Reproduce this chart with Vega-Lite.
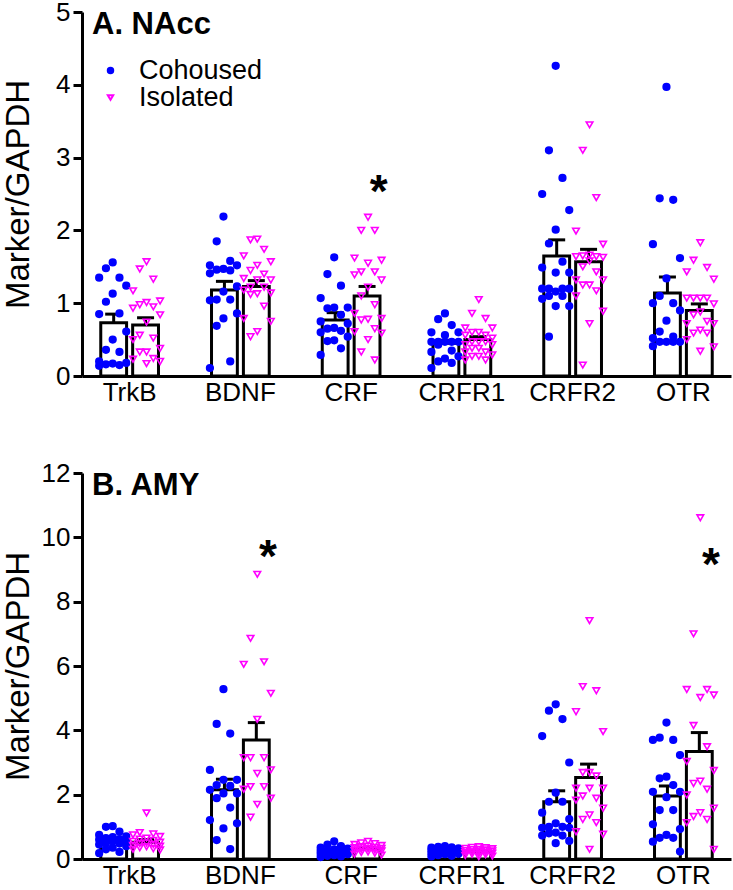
{
  "$schema": "https://vega.github.io/schema/vega-lite/v6.json",
  "autosize": {"type": "none"},
  "padding": {"left": 82, "top": 12, "right": 651, "bottom": 878},
  "spacing": 97,
  "bounds": "flush",
  "resolve": {"legend": {"shape": "independent", "fill": "independent", "stroke": "independent"}},
  "config": {
    "font": "Liberation Sans",
    "view": {"stroke": null},
    "axis": {"grid": false, "domainColor": "black", "domainWidth": 3, "tickColor": "black", "tickWidth": 3, "labelColor": "black", "labelFontSize": 26, "titleColor": "black"},
    "axisX": {"ticks": false, "labelPadding": 3, "title": null, "labelAngle": 0},
    "axisY": {"tickSize": 9, "labelPadding": 3, "titleFontSize": 33, "titleFontWeight": "normal", "titleX": -54, "titleBaseline": "alphabetic", "titleAngle": -90, "format": "d"}
  },
  "datasets": {
    "nacc_bars": [
      {"gene": "TrkB", "group": "Cohoused", "mean": 0.73, "hi": 0.85},
      {"gene": "TrkB", "group": "Isolated", "mean": 0.70, "hi": 0.80},
      {"gene": "BDNF", "group": "Cohoused", "mean": 1.18, "hi": 1.30},
      {"gene": "BDNF", "group": "Isolated", "mean": 1.23, "hi": 1.31},
      {"gene": "CRF", "group": "Cohoused", "mean": 0.77, "hi": 0.87},
      {"gene": "CRF", "group": "Isolated", "mean": 1.10, "hi": 1.23},
      {"gene": "CRFR1", "group": "Cohoused", "mean": 0.45, "hi": 0.49},
      {"gene": "CRFR1", "group": "Isolated", "mean": 0.50, "hi": 0.54},
      {"gene": "CRFR2", "group": "Cohoused", "mean": 1.65, "hi": 1.87},
      {"gene": "CRFR2", "group": "Isolated", "mean": 1.57, "hi": 1.74},
      {"gene": "OTR", "group": "Cohoused", "mean": 1.14, "hi": 1.36},
      {"gene": "OTR", "group": "Isolated", "mean": 0.90, "hi": 0.99}
    ],
    "amy_bars": [
      {"gene": "TrkB", "group": "Cohoused", "mean": 0.57, "hi": 0.63},
      {"gene": "TrkB", "group": "Isolated", "mean": 0.52, "hi": 0.60},
      {"gene": "BDNF", "group": "Cohoused", "mean": 2.15, "hi": 2.48},
      {"gene": "BDNF", "group": "Isolated", "mean": 3.70, "hi": 4.24},
      {"gene": "CRF", "group": "Cohoused", "mean": 0.24, "hi": 0.28},
      {"gene": "CRF", "group": "Isolated", "mean": 0.32, "hi": 0.35},
      {"gene": "CRFR1", "group": "Cohoused", "mean": 0.25, "hi": 0.28},
      {"gene": "CRFR1", "group": "Isolated", "mean": 0.23, "hi": 0.26},
      {"gene": "CRFR2", "group": "Cohoused", "mean": 1.78, "hi": 2.12},
      {"gene": "CRFR2", "group": "Isolated", "mean": 2.53, "hi": 2.95},
      {"gene": "OTR", "group": "Cohoused", "mean": 1.96, "hi": 2.27},
      {"gene": "OTR", "group": "Isolated", "mean": 3.34, "hi": 3.93}
    ],
    "sig": [
      {"region": "NAcc", "gene": "CRF", "group": "Isolated", "value": 2.65},
      {"region": "AMY", "gene": "BDNF", "group": "Isolated", "value": 9.66},
      {"region": "AMY", "gene": "OTR", "group": "Isolated", "value": 9.42}
    ],
    "nacc": [
      {"gene":"TrkB","group":"Cohoused","value":1.56},{"gene":"TrkB","group":"Cohoused","value":1.48},{"gene":"TrkB","group":"Cohoused","value":1.35},{"gene":"TrkB","group":"Cohoused","value":1.35},{"gene":"TrkB","group":"Cohoused","value":1.24},{"gene":"TrkB","group":"Cohoused","value":1.13},{"gene":"TrkB","group":"Cohoused","value":1.02},{"gene":"TrkB","group":"Cohoused","value":0.86},{"gene":"TrkB","group":"Cohoused","value":0.85},{"gene":"TrkB","group":"Cohoused","value":0.61},{"gene":"TrkB","group":"Cohoused","value":0.50},{"gene":"TrkB","group":"Cohoused","value":0.36},{"gene":"TrkB","group":"Cohoused","value":0.33},{"gene":"TrkB","group":"Cohoused","value":0.20},{"gene":"TrkB","group":"Cohoused","value":0.18},{"gene":"TrkB","group":"Cohoused","value":0.17},{"gene":"TrkB","group":"Cohoused","value":0.16},{"gene":"TrkB","group":"Cohoused","value":0.15},{"gene":"TrkB","group":"Cohoused","value":0.14},
      {"gene":"TrkB","group":"Isolated","value":1.57},{"gene":"TrkB","group":"Isolated","value":1.47},{"gene":"TrkB","group":"Isolated","value":1.33},{"gene":"TrkB","group":"Isolated","value":1.17},{"gene":"TrkB","group":"Isolated","value":1.03},{"gene":"TrkB","group":"Isolated","value":1.01},{"gene":"TrkB","group":"Isolated","value":0.98},{"gene":"TrkB","group":"Isolated","value":0.95},{"gene":"TrkB","group":"Isolated","value":0.93},{"gene":"TrkB","group":"Isolated","value":0.84},{"gene":"TrkB","group":"Isolated","value":0.74},{"gene":"TrkB","group":"Isolated","value":0.56},{"gene":"TrkB","group":"Isolated","value":0.52},{"gene":"TrkB","group":"Isolated","value":0.50},{"gene":"TrkB","group":"Isolated","value":0.38},{"gene":"TrkB","group":"Isolated","value":0.33},{"gene":"TrkB","group":"Isolated","value":0.33},{"gene":"TrkB","group":"Isolated","value":0.24},{"gene":"TrkB","group":"Isolated","value":0.23},{"gene":"TrkB","group":"Isolated","value":0.20},{"gene":"TrkB","group":"Isolated","value":0.17},
      {"gene":"BDNF","group":"Cohoused","value":2.19},{"gene":"BDNF","group":"Cohoused","value":1.85},{"gene":"BDNF","group":"Cohoused","value":1.58},{"gene":"BDNF","group":"Cohoused","value":1.52},{"gene":"BDNF","group":"Cohoused","value":1.52},{"gene":"BDNF","group":"Cohoused","value":1.47},{"gene":"BDNF","group":"Cohoused","value":1.46},{"gene":"BDNF","group":"Cohoused","value":1.45},{"gene":"BDNF","group":"Cohoused","value":1.41},{"gene":"BDNF","group":"Cohoused","value":1.23},{"gene":"BDNF","group":"Cohoused","value":1.16},{"gene":"BDNF","group":"Cohoused","value":1.05},{"gene":"BDNF","group":"Cohoused","value":1.05},{"gene":"BDNF","group":"Cohoused","value":1.04},{"gene":"BDNF","group":"Cohoused","value":0.86},{"gene":"BDNF","group":"Cohoused","value":0.79},{"gene":"BDNF","group":"Cohoused","value":0.69},{"gene":"BDNF","group":"Cohoused","value":0.20},{"gene":"BDNF","group":"Cohoused","value":0.11},
      {"gene":"BDNF","group":"Isolated","value":1.88},{"gene":"BDNF","group":"Isolated","value":1.87},{"gene":"BDNF","group":"Isolated","value":1.74},{"gene":"BDNF","group":"Isolated","value":1.65},{"gene":"BDNF","group":"Isolated","value":1.57},{"gene":"BDNF","group":"Isolated","value":1.52},{"gene":"BDNF","group":"Isolated","value":1.45},{"gene":"BDNF","group":"Isolated","value":1.40},{"gene":"BDNF","group":"Isolated","value":1.34},{"gene":"BDNF","group":"Isolated","value":1.32},{"gene":"BDNF","group":"Isolated","value":1.32},{"gene":"BDNF","group":"Isolated","value":1.22},{"gene":"BDNF","group":"Isolated","value":1.22},{"gene":"BDNF","group":"Isolated","value":1.18},{"gene":"BDNF","group":"Isolated","value":1.14},{"gene":"BDNF","group":"Isolated","value":1.13},{"gene":"BDNF","group":"Isolated","value":1.12},{"gene":"BDNF","group":"Isolated","value":0.96},{"gene":"BDNF","group":"Isolated","value":0.79},{"gene":"BDNF","group":"Isolated","value":0.75},{"gene":"BDNF","group":"Isolated","value":0.61},{"gene":"BDNF","group":"Isolated","value":0.54},
      {"gene":"CRF","group":"Cohoused","value":1.63},{"gene":"CRF","group":"Cohoused","value":1.40},{"gene":"CRF","group":"Cohoused","value":1.24},{"gene":"CRF","group":"Cohoused","value":1.07},{"gene":"CRF","group":"Cohoused","value":0.94},{"gene":"CRF","group":"Cohoused","value":0.94},{"gene":"CRF","group":"Cohoused","value":0.93},{"gene":"CRF","group":"Cohoused","value":0.84},{"gene":"CRF","group":"Cohoused","value":0.75},{"gene":"CRF","group":"Cohoused","value":0.72},{"gene":"CRF","group":"Cohoused","value":0.66},{"gene":"CRF","group":"Cohoused","value":0.65},{"gene":"CRF","group":"Cohoused","value":0.62},{"gene":"CRF","group":"Cohoused","value":0.60},{"gene":"CRF","group":"Cohoused","value":0.54},{"gene":"CRF","group":"Cohoused","value":0.49},{"gene":"CRF","group":"Cohoused","value":0.48},{"gene":"CRF","group":"Cohoused","value":0.38},{"gene":"CRF","group":"Cohoused","value":0.29},
      {"gene":"CRF","group":"Isolated","value":2.18},{"gene":"CRF","group":"Isolated","value":2.00},{"gene":"CRF","group":"Isolated","value":2.00},{"gene":"CRF","group":"Isolated","value":1.62},{"gene":"CRF","group":"Isolated","value":1.59},{"gene":"CRF","group":"Isolated","value":1.55},{"gene":"CRF","group":"Isolated","value":1.43},{"gene":"CRF","group":"Isolated","value":1.43},{"gene":"CRF","group":"Isolated","value":1.39},{"gene":"CRF","group":"Isolated","value":1.32},{"gene":"CRF","group":"Isolated","value":1.22},{"gene":"CRF","group":"Isolated","value":1.10},{"gene":"CRF","group":"Isolated","value":0.98},{"gene":"CRF","group":"Isolated","value":0.86},{"gene":"CRF","group":"Isolated","value":0.79},{"gene":"CRF","group":"Isolated","value":0.78},{"gene":"CRF","group":"Isolated","value":0.77},{"gene":"CRF","group":"Isolated","value":0.65},{"gene":"CRF","group":"Isolated","value":0.61},{"gene":"CRF","group":"Isolated","value":0.59},{"gene":"CRF","group":"Isolated","value":0.50},{"gene":"CRF","group":"Isolated","value":0.33},{"gene":"CRF","group":"Isolated","value":0.22},
      {"gene":"CRFR1","group":"Cohoused","value":0.86},{"gene":"CRFR1","group":"Cohoused","value":0.78},{"gene":"CRFR1","group":"Cohoused","value":0.70},{"gene":"CRFR1","group":"Cohoused","value":0.60},{"gene":"CRFR1","group":"Cohoused","value":0.60},{"gene":"CRFR1","group":"Cohoused","value":0.56},{"gene":"CRFR1","group":"Cohoused","value":0.47},{"gene":"CRFR1","group":"Cohoused","value":0.47},{"gene":"CRFR1","group":"Cohoused","value":0.47},{"gene":"CRFR1","group":"Cohoused","value":0.47},{"gene":"CRFR1","group":"Cohoused","value":0.47},{"gene":"CRFR1","group":"Cohoused","value":0.43},{"gene":"CRFR1","group":"Cohoused","value":0.35},{"gene":"CRFR1","group":"Cohoused","value":0.33},{"gene":"CRFR1","group":"Cohoused","value":0.27},{"gene":"CRFR1","group":"Cohoused","value":0.24},{"gene":"CRFR1","group":"Cohoused","value":0.20},{"gene":"CRFR1","group":"Cohoused","value":0.18},{"gene":"CRFR1","group":"Cohoused","value":0.11},
      {"gene":"CRFR1","group":"Isolated","value":1.05},{"gene":"CRFR1","group":"Isolated","value":0.86},{"gene":"CRFR1","group":"Isolated","value":0.79},{"gene":"CRFR1","group":"Isolated","value":0.66},{"gene":"CRFR1","group":"Isolated","value":0.66},{"gene":"CRFR1","group":"Isolated","value":0.60},{"gene":"CRFR1","group":"Isolated","value":0.60},{"gene":"CRFR1","group":"Isolated","value":0.56},{"gene":"CRFR1","group":"Isolated","value":0.56},{"gene":"CRFR1","group":"Isolated","value":0.52},{"gene":"CRFR1","group":"Isolated","value":0.47},{"gene":"CRFR1","group":"Isolated","value":0.47},{"gene":"CRFR1","group":"Isolated","value":0.47},{"gene":"CRFR1","group":"Isolated","value":0.43},{"gene":"CRFR1","group":"Isolated","value":0.43},{"gene":"CRFR1","group":"Isolated","value":0.38},{"gene":"CRFR1","group":"Isolated","value":0.38},{"gene":"CRFR1","group":"Isolated","value":0.33},{"gene":"CRFR1","group":"Isolated","value":0.33},{"gene":"CRFR1","group":"Isolated","value":0.29},{"gene":"CRFR1","group":"Isolated","value":0.27},{"gene":"CRFR1","group":"Isolated","value":0.27},{"gene":"CRFR1","group":"Isolated","value":0.22},{"gene":"CRFR1","group":"Isolated","value":0.22},
      {"gene":"CRFR2","group":"Cohoused","value":4.26},{"gene":"CRFR2","group":"Cohoused","value":3.10},{"gene":"CRFR2","group":"Cohoused","value":2.72},{"gene":"CRFR2","group":"Cohoused","value":2.50},{"gene":"CRFR2","group":"Cohoused","value":2.28},{"gene":"CRFR2","group":"Cohoused","value":2.01},{"gene":"CRFR2","group":"Cohoused","value":1.82},{"gene":"CRFR2","group":"Cohoused","value":1.57},{"gene":"CRFR2","group":"Cohoused","value":1.49},{"gene":"CRFR2","group":"Cohoused","value":1.42},{"gene":"CRFR2","group":"Cohoused","value":1.42},{"gene":"CRFR2","group":"Cohoused","value":1.20},{"gene":"CRFR2","group":"Cohoused","value":1.20},{"gene":"CRFR2","group":"Cohoused","value":1.20},{"gene":"CRFR2","group":"Cohoused","value":1.20},{"gene":"CRFR2","group":"Cohoused","value":1.16},{"gene":"CRFR2","group":"Cohoused","value":1.10},{"gene":"CRFR2","group":"Cohoused","value":1.10},{"gene":"CRFR2","group":"Cohoused","value":1.06},{"gene":"CRFR2","group":"Cohoused","value":0.96},{"gene":"CRFR2","group":"Cohoused","value":0.96},{"gene":"CRFR2","group":"Cohoused","value":0.54},
      {"gene":"CRFR2","group":"Isolated","value":3.45},{"gene":"CRFR2","group":"Isolated","value":3.10},{"gene":"CRFR2","group":"Isolated","value":2.45},{"gene":"CRFR2","group":"Isolated","value":1.99},{"gene":"CRFR2","group":"Isolated","value":1.81},{"gene":"CRFR2","group":"Isolated","value":1.66},{"gene":"CRFR2","group":"Isolated","value":1.65},{"gene":"CRFR2","group":"Isolated","value":1.64},{"gene":"CRFR2","group":"Isolated","value":1.64},{"gene":"CRFR2","group":"Isolated","value":1.63},{"gene":"CRFR2","group":"Isolated","value":1.58},{"gene":"CRFR2","group":"Isolated","value":1.50},{"gene":"CRFR2","group":"Isolated","value":1.43},{"gene":"CRFR2","group":"Isolated","value":1.32},{"gene":"CRFR2","group":"Isolated","value":1.32},{"gene":"CRFR2","group":"Isolated","value":1.25},{"gene":"CRFR2","group":"Isolated","value":1.25},{"gene":"CRFR2","group":"Isolated","value":1.17},{"gene":"CRFR2","group":"Isolated","value":1.10},{"gene":"CRFR2","group":"Isolated","value":0.89},{"gene":"CRFR2","group":"Isolated","value":0.72},{"gene":"CRFR2","group":"Isolated","value":0.15},
      {"gene":"OTR","group":"Cohoused","value":3.97},{"gene":"OTR","group":"Cohoused","value":2.44},{"gene":"OTR","group":"Cohoused","value":2.42},{"gene":"OTR","group":"Cohoused","value":1.81},{"gene":"OTR","group":"Cohoused","value":1.62},{"gene":"OTR","group":"Cohoused","value":1.34},{"gene":"OTR","group":"Cohoused","value":1.10},{"gene":"OTR","group":"Cohoused","value":1.00},{"gene":"OTR","group":"Cohoused","value":1.00},{"gene":"OTR","group":"Cohoused","value":0.90},{"gene":"OTR","group":"Cohoused","value":0.76},{"gene":"OTR","group":"Cohoused","value":0.61},{"gene":"OTR","group":"Cohoused","value":0.54},{"gene":"OTR","group":"Cohoused","value":0.52},{"gene":"OTR","group":"Cohoused","value":0.47},{"gene":"OTR","group":"Cohoused","value":0.47},{"gene":"OTR","group":"Cohoused","value":0.47},{"gene":"OTR","group":"Cohoused","value":0.47},{"gene":"OTR","group":"Cohoused","value":0.41},
      {"gene":"OTR","group":"Isolated","value":1.83},{"gene":"OTR","group":"Isolated","value":1.59},{"gene":"OTR","group":"Isolated","value":1.49},{"gene":"OTR","group":"Isolated","value":1.43},{"gene":"OTR","group":"Isolated","value":1.33},{"gene":"OTR","group":"Isolated","value":1.07},{"gene":"OTR","group":"Isolated","value":1.07},{"gene":"OTR","group":"Isolated","value":1.07},{"gene":"OTR","group":"Isolated","value":1.07},{"gene":"OTR","group":"Isolated","value":0.99},{"gene":"OTR","group":"Isolated","value":0.88},{"gene":"OTR","group":"Isolated","value":0.84},{"gene":"OTR","group":"Isolated","value":0.75},{"gene":"OTR","group":"Isolated","value":0.72},{"gene":"OTR","group":"Isolated","value":0.72},{"gene":"OTR","group":"Isolated","value":0.63},{"gene":"OTR","group":"Isolated","value":0.59},{"gene":"OTR","group":"Isolated","value":0.59},{"gene":"OTR","group":"Isolated","value":0.50},{"gene":"OTR","group":"Isolated","value":0.40},{"gene":"OTR","group":"Isolated","value":0.34}
    ],
    "amy": [
      {"gene":"TrkB","group":"Cohoused","value":1.02},{"gene":"TrkB","group":"Cohoused","value":1.00},{"gene":"TrkB","group":"Cohoused","value":0.85},{"gene":"TrkB","group":"Cohoused","value":0.75},{"gene":"TrkB","group":"Cohoused","value":0.70},{"gene":"TrkB","group":"Cohoused","value":0.68},{"gene":"TrkB","group":"Cohoused","value":0.65},{"gene":"TrkB","group":"Cohoused","value":0.62},{"gene":"TrkB","group":"Cohoused","value":0.60},{"gene":"TrkB","group":"Cohoused","value":0.58},{"gene":"TrkB","group":"Cohoused","value":0.55},{"gene":"TrkB","group":"Cohoused","value":0.50},{"gene":"TrkB","group":"Cohoused","value":0.48},{"gene":"TrkB","group":"Cohoused","value":0.45},{"gene":"TrkB","group":"Cohoused","value":0.40},{"gene":"TrkB","group":"Cohoused","value":0.35},{"gene":"TrkB","group":"Cohoused","value":0.30},{"gene":"TrkB","group":"Cohoused","value":0.22},{"gene":"TrkB","group":"Cohoused","value":0.18},
      {"gene":"TrkB","group":"Isolated","value":1.43},{"gene":"TrkB","group":"Isolated","value":0.82},{"gene":"TrkB","group":"Isolated","value":0.78},{"gene":"TrkB","group":"Isolated","value":0.75},{"gene":"TrkB","group":"Isolated","value":0.70},{"gene":"TrkB","group":"Isolated","value":0.65},{"gene":"TrkB","group":"Isolated","value":0.62},{"gene":"TrkB","group":"Isolated","value":0.58},{"gene":"TrkB","group":"Isolated","value":0.55},{"gene":"TrkB","group":"Isolated","value":0.52},{"gene":"TrkB","group":"Isolated","value":0.50},{"gene":"TrkB","group":"Isolated","value":0.48},{"gene":"TrkB","group":"Isolated","value":0.45},{"gene":"TrkB","group":"Isolated","value":0.42},{"gene":"TrkB","group":"Isolated","value":0.40},{"gene":"TrkB","group":"Isolated","value":0.38},{"gene":"TrkB","group":"Isolated","value":0.35},{"gene":"TrkB","group":"Isolated","value":0.32},{"gene":"TrkB","group":"Isolated","value":0.30},{"gene":"TrkB","group":"Isolated","value":0.28},
      {"gene":"BDNF","group":"Cohoused","value":5.28},{"gene":"BDNF","group":"Cohoused","value":4.20},{"gene":"BDNF","group":"Cohoused","value":3.90},{"gene":"BDNF","group":"Cohoused","value":2.77},{"gene":"BDNF","group":"Cohoused","value":2.46},{"gene":"BDNF","group":"Cohoused","value":2.46},{"gene":"BDNF","group":"Cohoused","value":2.30},{"gene":"BDNF","group":"Cohoused","value":2.27},{"gene":"BDNF","group":"Cohoused","value":2.15},{"gene":"BDNF","group":"Cohoused","value":2.04},{"gene":"BDNF","group":"Cohoused","value":2.04},{"gene":"BDNF","group":"Cohoused","value":1.89},{"gene":"BDNF","group":"Cohoused","value":1.60},{"gene":"BDNF","group":"Cohoused","value":1.21},{"gene":"BDNF","group":"Cohoused","value":1.11},{"gene":"BDNF","group":"Cohoused","value":0.95},{"gene":"BDNF","group":"Cohoused","value":0.59},{"gene":"BDNF","group":"Cohoused","value":0.31},
      {"gene":"BDNF","group":"Isolated","value":8.85},{"gene":"BDNF","group":"Isolated","value":6.86},{"gene":"BDNF","group":"Isolated","value":6.13},{"gene":"BDNF","group":"Isolated","value":6.05},{"gene":"BDNF","group":"Isolated","value":5.15},{"gene":"BDNF","group":"Isolated","value":4.34},{"gene":"BDNF","group":"Isolated","value":3.15},{"gene":"BDNF","group":"Isolated","value":3.15},{"gene":"BDNF","group":"Isolated","value":3.15},{"gene":"BDNF","group":"Isolated","value":2.77},{"gene":"BDNF","group":"Isolated","value":2.66},{"gene":"BDNF","group":"Isolated","value":2.25},{"gene":"BDNF","group":"Isolated","value":2.25},{"gene":"BDNF","group":"Isolated","value":2.17},{"gene":"BDNF","group":"Isolated","value":1.89},{"gene":"BDNF","group":"Isolated","value":1.70},{"gene":"BDNF","group":"Isolated","value":1.30},
      {"gene":"CRF","group":"Cohoused","value":0.55},{"gene":"CRF","group":"Cohoused","value":0.45},{"gene":"CRF","group":"Cohoused","value":0.40},{"gene":"CRF","group":"Cohoused","value":0.35},{"gene":"CRF","group":"Cohoused","value":0.32},{"gene":"CRF","group":"Cohoused","value":0.30},{"gene":"CRF","group":"Cohoused","value":0.28},{"gene":"CRF","group":"Cohoused","value":0.27},{"gene":"CRF","group":"Cohoused","value":0.25},{"gene":"CRF","group":"Cohoused","value":0.24},{"gene":"CRF","group":"Cohoused","value":0.22},{"gene":"CRF","group":"Cohoused","value":0.20},{"gene":"CRF","group":"Cohoused","value":0.18},{"gene":"CRF","group":"Cohoused","value":0.16},{"gene":"CRF","group":"Cohoused","value":0.15},{"gene":"CRF","group":"Cohoused","value":0.12},{"gene":"CRF","group":"Cohoused","value":0.10},{"gene":"CRF","group":"Cohoused","value":0.08},{"gene":"CRF","group":"Cohoused","value":0.06},
      {"gene":"CRF","group":"Isolated","value":0.55},{"gene":"CRF","group":"Isolated","value":0.50},{"gene":"CRF","group":"Isolated","value":0.48},{"gene":"CRF","group":"Isolated","value":0.45},{"gene":"CRF","group":"Isolated","value":0.42},{"gene":"CRF","group":"Isolated","value":0.40},{"gene":"CRF","group":"Isolated","value":0.38},{"gene":"CRF","group":"Isolated","value":0.36},{"gene":"CRF","group":"Isolated","value":0.35},{"gene":"CRF","group":"Isolated","value":0.33},{"gene":"CRF","group":"Isolated","value":0.32},{"gene":"CRF","group":"Isolated","value":0.30},{"gene":"CRF","group":"Isolated","value":0.28},{"gene":"CRF","group":"Isolated","value":0.26},{"gene":"CRF","group":"Isolated","value":0.25},{"gene":"CRF","group":"Isolated","value":0.22},{"gene":"CRF","group":"Isolated","value":0.20},{"gene":"CRF","group":"Isolated","value":0.18},{"gene":"CRF","group":"Isolated","value":0.15},{"gene":"CRF","group":"Isolated","value":0.12},
      {"gene":"CRFR1","group":"Cohoused","value":0.40},{"gene":"CRFR1","group":"Cohoused","value":0.38},{"gene":"CRFR1","group":"Cohoused","value":0.36},{"gene":"CRFR1","group":"Cohoused","value":0.35},{"gene":"CRFR1","group":"Cohoused","value":0.33},{"gene":"CRFR1","group":"Cohoused","value":0.32},{"gene":"CRFR1","group":"Cohoused","value":0.30},{"gene":"CRFR1","group":"Cohoused","value":0.28},{"gene":"CRFR1","group":"Cohoused","value":0.27},{"gene":"CRFR1","group":"Cohoused","value":0.25},{"gene":"CRFR1","group":"Cohoused","value":0.24},{"gene":"CRFR1","group":"Cohoused","value":0.22},{"gene":"CRFR1","group":"Cohoused","value":0.20},{"gene":"CRFR1","group":"Cohoused","value":0.18},{"gene":"CRFR1","group":"Cohoused","value":0.16},{"gene":"CRFR1","group":"Cohoused","value":0.15},{"gene":"CRFR1","group":"Cohoused","value":0.12},{"gene":"CRFR1","group":"Cohoused","value":0.10},{"gene":"CRFR1","group":"Cohoused","value":0.08},
      {"gene":"CRFR1","group":"Isolated","value":0.38},{"gene":"CRFR1","group":"Isolated","value":0.36},{"gene":"CRFR1","group":"Isolated","value":0.35},{"gene":"CRFR1","group":"Isolated","value":0.33},{"gene":"CRFR1","group":"Isolated","value":0.32},{"gene":"CRFR1","group":"Isolated","value":0.30},{"gene":"CRFR1","group":"Isolated","value":0.29},{"gene":"CRFR1","group":"Isolated","value":0.28},{"gene":"CRFR1","group":"Isolated","value":0.26},{"gene":"CRFR1","group":"Isolated","value":0.25},{"gene":"CRFR1","group":"Isolated","value":0.24},{"gene":"CRFR1","group":"Isolated","value":0.22},{"gene":"CRFR1","group":"Isolated","value":0.21},{"gene":"CRFR1","group":"Isolated","value":0.20},{"gene":"CRFR1","group":"Isolated","value":0.18},{"gene":"CRFR1","group":"Isolated","value":0.16},{"gene":"CRFR1","group":"Isolated","value":0.15},{"gene":"CRFR1","group":"Isolated","value":0.13},{"gene":"CRFR1","group":"Isolated","value":0.11},{"gene":"CRFR1","group":"Isolated","value":0.09},{"gene":"CRFR1","group":"Isolated","value":0.07},
      {"gene":"CRFR2","group":"Cohoused","value":4.81},{"gene":"CRFR2","group":"Cohoused","value":4.61},{"gene":"CRFR2","group":"Cohoused","value":4.35},{"gene":"CRFR2","group":"Cohoused","value":3.82},{"gene":"CRFR2","group":"Cohoused","value":3.00},{"gene":"CRFR2","group":"Cohoused","value":2.06},{"gene":"CRFR2","group":"Cohoused","value":1.78},{"gene":"CRFR2","group":"Cohoused","value":1.78},{"gene":"CRFR2","group":"Cohoused","value":1.44},{"gene":"CRFR2","group":"Cohoused","value":1.24},{"gene":"CRFR2","group":"Cohoused","value":1.11},{"gene":"CRFR2","group":"Cohoused","value":1.00},{"gene":"CRFR2","group":"Cohoused","value":1.00},{"gene":"CRFR2","group":"Cohoused","value":0.97},{"gene":"CRFR2","group":"Cohoused","value":0.97},{"gene":"CRFR2","group":"Cohoused","value":0.82},{"gene":"CRFR2","group":"Cohoused","value":0.80},{"gene":"CRFR2","group":"Cohoused","value":0.73},{"gene":"CRFR2","group":"Cohoused","value":0.73},{"gene":"CRFR2","group":"Cohoused","value":0.56},{"gene":"CRFR2","group":"Cohoused","value":0.49},
      {"gene":"CRFR2","group":"Isolated","value":7.41},{"gene":"CRFR2","group":"Isolated","value":5.36},{"gene":"CRFR2","group":"Isolated","value":5.23},{"gene":"CRFR2","group":"Isolated","value":4.58},{"gene":"CRFR2","group":"Isolated","value":3.96},{"gene":"CRFR2","group":"Isolated","value":2.69},{"gene":"CRFR2","group":"Isolated","value":2.69},{"gene":"CRFR2","group":"Isolated","value":2.58},{"gene":"CRFR2","group":"Isolated","value":2.20},{"gene":"CRFR2","group":"Isolated","value":2.20},{"gene":"CRFR2","group":"Isolated","value":2.20},{"gene":"CRFR2","group":"Isolated","value":1.96},{"gene":"CRFR2","group":"Isolated","value":1.89},{"gene":"CRFR2","group":"Isolated","value":1.83},{"gene":"CRFR2","group":"Isolated","value":1.58},{"gene":"CRFR2","group":"Isolated","value":1.37},{"gene":"CRFR2","group":"Isolated","value":1.23},{"gene":"CRFR2","group":"Isolated","value":1.13},{"gene":"CRFR2","group":"Isolated","value":0.85},{"gene":"CRFR2","group":"Isolated","value":0.77},{"gene":"CRFR2","group":"Isolated","value":0.30},
      {"gene":"OTR","group":"Cohoused","value":4.24},{"gene":"OTR","group":"Cohoused","value":3.77},{"gene":"OTR","group":"Cohoused","value":3.70},{"gene":"OTR","group":"Cohoused","value":3.70},{"gene":"OTR","group":"Cohoused","value":3.23},{"gene":"OTR","group":"Cohoused","value":2.56},{"gene":"OTR","group":"Cohoused","value":2.51},{"gene":"OTR","group":"Cohoused","value":2.30},{"gene":"OTR","group":"Cohoused","value":2.09},{"gene":"OTR","group":"Cohoused","value":2.09},{"gene":"OTR","group":"Cohoused","value":1.92},{"gene":"OTR","group":"Cohoused","value":1.52},{"gene":"OTR","group":"Cohoused","value":1.52},{"gene":"OTR","group":"Cohoused","value":1.08},{"gene":"OTR","group":"Cohoused","value":0.93},{"gene":"OTR","group":"Cohoused","value":0.75},{"gene":"OTR","group":"Cohoused","value":0.66},{"gene":"OTR","group":"Cohoused","value":0.66},{"gene":"OTR","group":"Cohoused","value":0.54},{"gene":"OTR","group":"Cohoused","value":0.23},
      {"gene":"OTR","group":"Isolated","value":10.61},{"gene":"OTR","group":"Isolated","value":7.00},{"gene":"OTR","group":"Isolated","value":5.27},{"gene":"OTR","group":"Isolated","value":5.27},{"gene":"OTR","group":"Isolated","value":5.10},{"gene":"OTR","group":"Isolated","value":5.02},{"gene":"OTR","group":"Isolated","value":4.15},{"gene":"OTR","group":"Isolated","value":3.49},{"gene":"OTR","group":"Isolated","value":3.03},{"gene":"OTR","group":"Isolated","value":2.75},{"gene":"OTR","group":"Isolated","value":2.42},{"gene":"OTR","group":"Isolated","value":2.35},{"gene":"OTR","group":"Isolated","value":2.17},{"gene":"OTR","group":"Isolated","value":1.99},{"gene":"OTR","group":"Isolated","value":1.58},{"gene":"OTR","group":"Isolated","value":1.44},{"gene":"OTR","group":"Isolated","value":1.32},{"gene":"OTR","group":"Isolated","value":1.23},{"gene":"OTR","group":"Isolated","value":1.13},{"gene":"OTR","group":"Isolated","value":0.30}
    ]
  },
  "vconcat": [
    {
      "width": 649, "height": 364,
      "title": {"text": "A. NAcc", "anchor": "start", "frame": "group", "offset": -42, "dx": 10, "fontSize": 31, "fontWeight": "bold", "color": "black"},
      "layer": [
        {"data": {"name": "nacc_bars"}, "mark": {"type": "bar", "fill": "white", "stroke": "black", "strokeWidth": 3},
          "encoding": {
            "x": {"field": "gene", "type": "nominal", "sort": ["TrkB","BDNF","CRF","CRFR1","CRFR2","OTR"], "scale": {"paddingInner": 0.45, "paddingOuter": 0.155}},
            "xOffset": {"field": "group", "type": "nominal", "scale": {"domain": ["Cohoused","Isolated"], "paddingInner": 0.19, "paddingOuter": 0.05}},
            "y": {"field": "mean", "type": "quantitative", "title": "Marker/GAPDH", "scale": {"domain": [0, 5], "nice": false}, "axis": {"values": [0,1,2,3,4,5], "titleY": 182}}
          }},
        {"data": {"name": "nacc_bars"}, "mark": {"type": "rule", "strokeWidth": 3, "color": "black"},
          "encoding": {
            "x": {"field": "gene", "type": "nominal", "sort": ["TrkB","BDNF","CRF","CRFR1","CRFR2","OTR"]},
            "xOffset": {"field": "group", "type": "nominal", "scale": {"domain": ["Cohoused","Isolated"], "paddingInner": 0.19, "paddingOuter": 0.05}},
            "y": {"field": "mean", "type": "quantitative", "title": "Marker/GAPDH"},
            "y2": {"field": "hi"}
          }},
        {"data": {"name": "nacc_bars"}, "mark": {"type": "tick", "size": 17, "thickness": 3, "color": "black", "opacity": 1},
          "encoding": {
            "x": {"field": "gene", "type": "nominal", "sort": ["TrkB","BDNF","CRF","CRFR1","CRFR2","OTR"]},
            "xOffset": {"field": "group", "type": "nominal", "scale": {"domain": ["Cohoused","Isolated"], "paddingInner": 0.19, "paddingOuter": 0.05}},
            "y": {"field": "hi", "type": "quantitative", "title": "Marker/GAPDH"}
          }},
        {"data": {"name": "nacc"},
          "transform": [
            {"window": [{"op": "row_number", "as": "r"}], "groupby": ["gene","group"], "sort": [{"field": "value", "order": "descending"}]},
            {"calculate": "datum.group + '|' + ['c','b','d','a','e'][(datum.r - 1) % 5]", "as": "slot"}
          ],
          "mark": {"type": "point", "strokeWidth": 1.6, "opacity": 1, "size": 44},
          "encoding": {
            "x": {"field": "gene", "type": "nominal", "sort": ["TrkB","BDNF","CRF","CRFR1","CRFR2","OTR"]},
            "xOffset": {"field": "slot", "type": "nominal", "scale": {"domain": ["Cohoused|a","Cohoused|b","Cohoused|c","Cohoused|d","Cohoused|e","Isolated|a","Isolated|b","Isolated|c","Isolated|d","Isolated|e"], "paddingInner": 0, "paddingOuter": 0}},
            "y": {"field": "value", "type": "quantitative", "title": "Marker/GAPDH"},
            "shape": {"field": "group", "type": "nominal", "scale": {"domain": ["Cohoused","Isolated"], "range": ["circle","triangle-down"]},
              "legend": {"orient": "top-left", "offset": 15, "title": " ", "titleFontSize": 2, "titlePadding": 28, "labelFontSize": 27, "labelColor": "black", "symbolSize": 30, "symbolStrokeWidth": 2, "rowPadding": -9, "labelOffset": 15, "padding": 0}},
            "fill": {"field": "group", "type": "nominal", "scale": {"domain": ["Cohoused","Isolated"], "range": ["#0000ff","#ffffff00"]},
              "legend": {"orient": "top-left", "offset": 15, "title": " ", "titleFontSize": 2, "titlePadding": 28, "labelFontSize": 27, "labelColor": "black", "symbolSize": 30, "symbolStrokeWidth": 2, "rowPadding": -9, "labelOffset": 15, "padding": 0}},
            "stroke": {"field": "group", "type": "nominal", "scale": {"domain": ["Cohoused","Isolated"], "range": ["#0000ff","#ff00ff"]},
              "legend": {"orient": "top-left", "offset": 15, "title": " ", "titleFontSize": 2, "titlePadding": 28, "labelFontSize": 27, "labelColor": "black", "symbolSize": 30, "symbolStrokeWidth": 2, "rowPadding": -9, "labelOffset": 15, "padding": 0}}
          }},
        {"data": {"name": "sig"}, "transform": [{"filter": "datum.region == 'NAcc'"}],
          "mark": {"type": "text", "text": "*", "fontSize": 46, "fontWeight": "bold", "color": "black", "baseline": "alphabetic", "dy": 24},
          "encoding": {
            "x": {"field": "gene", "type": "nominal", "sort": ["TrkB","BDNF","CRF","CRFR1","CRFR2","OTR"]},
            "xOffset": {"field": "group", "type": "nominal", "scale": {"domain": ["Cohoused","Isolated"], "paddingInner": 0.19, "paddingOuter": 0.05}},
            "y": {"field": "value", "type": "quantitative", "title": "Marker/GAPDH"}
          }}
      ],
      "resolve": {"scale": {"xOffset": "independent"}}
    },
    {
      "width": 649, "height": 386,
      "title": {"text": "B. AMY", "anchor": "start", "frame": "group", "offset": -42, "dx": 10, "fontSize": 31, "fontWeight": "bold", "color": "black"},
      "layer": [
        {"data": {"name": "amy_bars"}, "mark": {"type": "bar", "fill": "white", "stroke": "black", "strokeWidth": 3},
          "encoding": {
            "x": {"field": "gene", "type": "nominal", "sort": ["TrkB","BDNF","CRF","CRFR1","CRFR2","OTR"], "scale": {"paddingInner": 0.45, "paddingOuter": 0.155}},
            "xOffset": {"field": "group", "type": "nominal", "scale": {"domain": ["Cohoused","Isolated"], "paddingInner": 0.19, "paddingOuter": 0.05}},
            "y": {"field": "mean", "type": "quantitative", "title": "Marker/GAPDH", "scale": {"domain": [0, 12], "nice": false}, "axis": {"values": [0,2,4,6,8,10,12], "titleY": 193}}
          }},
        {"data": {"name": "amy_bars"}, "mark": {"type": "rule", "strokeWidth": 3, "color": "black"},
          "encoding": {
            "x": {"field": "gene", "type": "nominal", "sort": ["TrkB","BDNF","CRF","CRFR1","CRFR2","OTR"]},
            "xOffset": {"field": "group", "type": "nominal", "scale": {"domain": ["Cohoused","Isolated"], "paddingInner": 0.19, "paddingOuter": 0.05}},
            "y": {"field": "mean", "type": "quantitative", "title": "Marker/GAPDH"},
            "y2": {"field": "hi"}
          }},
        {"data": {"name": "amy_bars"}, "mark": {"type": "tick", "size": 17, "thickness": 3, "color": "black", "opacity": 1},
          "encoding": {
            "x": {"field": "gene", "type": "nominal", "sort": ["TrkB","BDNF","CRF","CRFR1","CRFR2","OTR"]},
            "xOffset": {"field": "group", "type": "nominal", "scale": {"domain": ["Cohoused","Isolated"], "paddingInner": 0.19, "paddingOuter": 0.05}},
            "y": {"field": "hi", "type": "quantitative", "title": "Marker/GAPDH"}
          }},
        {"data": {"name": "amy"},
          "transform": [
            {"window": [{"op": "row_number", "as": "r"}], "groupby": ["gene","group"], "sort": [{"field": "value", "order": "descending"}]},
            {"calculate": "datum.group + '|' + ['c','b','d','a','e'][(datum.r - 1) % 5]", "as": "slot"}
          ],
          "mark": {"type": "point", "strokeWidth": 1.6, "opacity": 1, "size": 44},
          "encoding": {
            "x": {"field": "gene", "type": "nominal", "sort": ["TrkB","BDNF","CRF","CRFR1","CRFR2","OTR"]},
            "xOffset": {"field": "slot", "type": "nominal", "scale": {"domain": ["Cohoused|a","Cohoused|b","Cohoused|c","Cohoused|d","Cohoused|e","Isolated|a","Isolated|b","Isolated|c","Isolated|d","Isolated|e"], "paddingInner": 0, "paddingOuter": 0}},
            "y": {"field": "value", "type": "quantitative", "title": "Marker/GAPDH"},
            "shape": {"field": "group", "type": "nominal", "scale": {"domain": ["Cohoused","Isolated"], "range": ["circle","triangle-down"]}, "legend": null},
            "fill": {"field": "group", "type": "nominal", "scale": {"domain": ["Cohoused","Isolated"], "range": ["#0000ff","#ffffff00"]}, "legend": null},
            "stroke": {"field": "group", "type": "nominal", "scale": {"domain": ["Cohoused","Isolated"], "range": ["#0000ff","#ff00ff"]}, "legend": null}
          }},
        {"data": {"name": "sig"}, "transform": [{"filter": "datum.region == 'AMY'"}],
          "mark": {"type": "text", "text": "*", "fontSize": 46, "fontWeight": "bold", "color": "black", "baseline": "alphabetic", "dy": 24},
          "encoding": {
            "x": {"field": "gene", "type": "nominal", "sort": ["TrkB","BDNF","CRF","CRFR1","CRFR2","OTR"]},
            "xOffset": {"field": "group", "type": "nominal", "scale": {"domain": ["Cohoused","Isolated"], "paddingInner": 0.19, "paddingOuter": 0.05}},
            "y": {"field": "value", "type": "quantitative", "title": "Marker/GAPDH"}
          }}
      ],
      "resolve": {"scale": {"xOffset": "independent"}}
    }
  ]
}
